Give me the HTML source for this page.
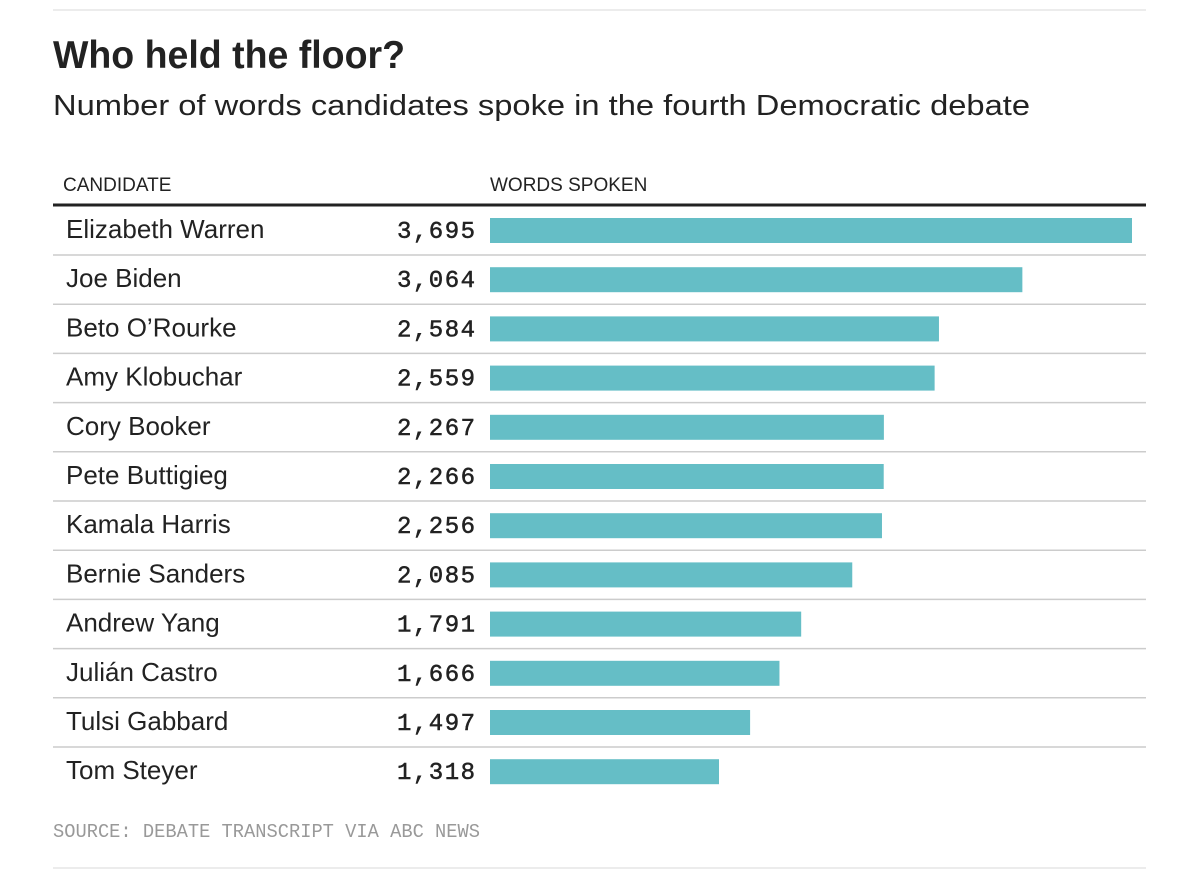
<!DOCTYPE html>
<html><head><meta charset="utf-8"><style>
html,body{margin:0;padding:0;background:#fff;}
svg{display:block;font-family:"Liberation Sans",sans-serif;}
</style></head><body>
<svg id="chart" width="1200" height="888" viewBox="0 0 1200 888" xmlns="http://www.w3.org/2000/svg">
<line x1="53" y1="10" x2="1146" y2="10" stroke="#e6e6e6" stroke-width="1.5"/>
<text x="53" y="68" font-size="39" font-weight="bold" fill="#222" textLength="352" lengthAdjust="spacingAndGlyphs">Who held the floor?</text>
<text x="53" y="115" font-size="29" fill="#222" textLength="977" lengthAdjust="spacingAndGlyphs">Number of words candidates spoke in the fourth Democratic debate</text>
<text x="63" y="191" font-size="19" fill="#222">CANDIDATE</text>
<text x="490" y="191" font-size="19" fill="#222">WORDS SPOKEN</text>
<line x1="53" y1="205" x2="1146" y2="205" stroke="#222" stroke-width="3"/>
<g id="rows"></g>
<text x="53" y="837" font-size="19" fill="#999" font-family="Liberation Mono, monospace" textLength="427" lengthAdjust="spacingAndGlyphs">SOURCE: DEBATE TRANSCRIPT VIA ABC NEWS</text>
<line x1="53" y1="868" x2="1146" y2="868" stroke="#e6e6e6" stroke-width="1.5"/>
</svg>
<script>
const candidates = ["Elizabeth Warren","Joe Biden","Beto O\u2019Rourke","Amy Klobuchar","Cory Booker","Pete Buttigieg","Kamala Harris","Bernie Sanders","Andrew Yang","Juli\u00e1n Castro","Tulsi Gabbard","Tom Steyer"];
const words = [3695,3064,2584,2559,2267,2266,2256,2085,1791,1666,1497,1318];

const NS = "http://www.w3.org/2000/svg";
const g = document.getElementById("rows");
const maxV = Math.max(...words);
const xScale = v => 490 + v / maxV * 642;
const rowTop = i => 206 + i * 49.2;
function mk(tag, attrs){const e=document.createElementNS(NS,tag);for(const k in attrs)e.setAttribute(k,attrs[k]);return e;}
candidates.forEach((name,i)=>{
  const t = rowTop(i);
  const lbl = mk("text",{x:66,y:t+32,"font-size":26,fill:"#222"});
  
  
  lbl.textContent = name; g.appendChild(lbl);
  const val = mk("text",{x:475,y:t+32,"font-size":24,fill:"#222",stroke:"#222","stroke-width":0.5,"text-anchor":"end","font-family":"Liberation Mono, monospace"});
  
  
  val.textContent = words[i].toLocaleString("en-US").split("").join("\u200a");
  g.appendChild(val);
  const bar = mk("rect",{x:490,y:t+12,width:xScale(words[i])-490,height:25,fill:"#65bec6"});
  
  
  g.appendChild(bar);
  if(i < candidates.length-1){
    const ln = mk("line",{x1:53,x2:1146,y1:t+49,y2:t+49,stroke:"#ccc","stroke-width":1.5});
    
    
    g.appendChild(ln);
  }
});
</script>
</body></html>
